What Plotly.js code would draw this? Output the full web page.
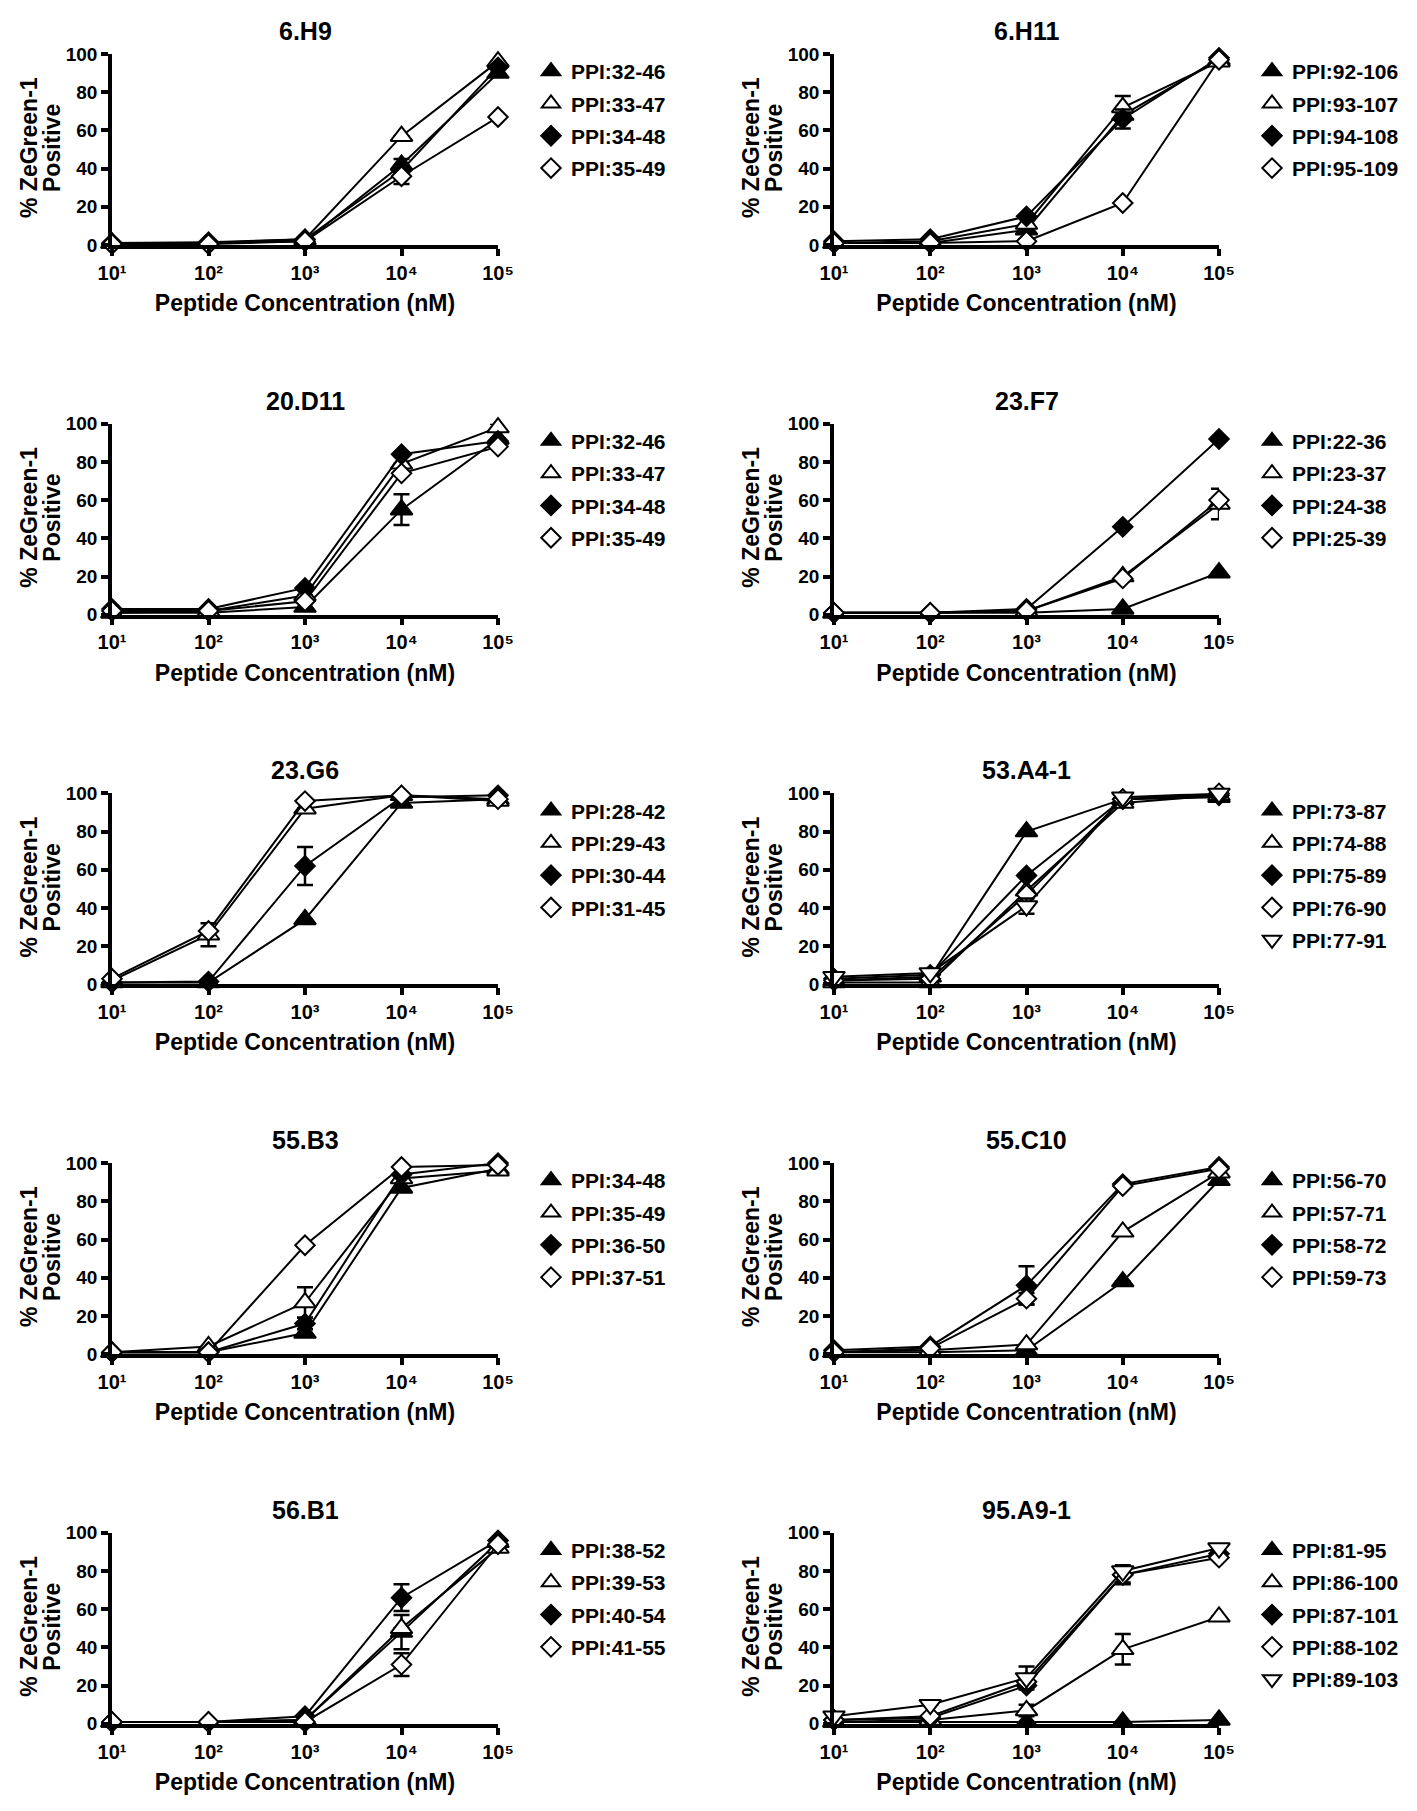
<!DOCTYPE html>
<html>
<head>
<meta charset="utf-8">
<script src="https://cdn.plot.ly/plotly-3.0.1.min.js"></script>
<style>html,body{margin:0;padding:0;background:#fff;}</style>
</head>
<body>
<div id="chart" style="width:1417px;height:1811px;"></div>
<script>
// ---------- data ----------
const concentrations = [10, 100, 1000, 10000, 100000];
const xTickText = ['10\u00B9', '10\u00B2', '10\u00B3', '10\u2074', '10\u2075'];
const yTicks = [0, 20, 40, 60, 80, 100];
const panelTitles = ['6.H9', '6.H11', '20.D11', '23.F7', '23.G6', '53.A4-1', '55.B3', '55.C10', '56.B1', '95.A9-1'];
const yTitleLine1 = '% ZeGreen-1';
const yTitleLine2 = 'Positive';
const xTitle = 'Peptide Concentration (nM)';

const labels_6H9 = ['PPI:32-46', 'PPI:33-47', 'PPI:34-48', 'PPI:35-49'];
const values_6H9 = [[1, 1, 2, 42, 90], [1, 1, 3, 57, 96], [1, 1.5, 3, 39, 93], [0.5, 0.5, 2, 36, 67]];
const errors_6H9 = [[0, 0, 0, 3, 0], [0, 0, 0, 0, 0], [0, 0, 0, 0, 0], [0, 0, 0, 4, 0]];

const labels_6H11 = ['PPI:92-106', 'PPI:93-107', 'PPI:94-108', 'PPI:95-109'];
const values_6H11 = [[1, 1, 8, 68, 97], [1, 2, 11, 72, 96], [2, 3, 15, 66, 98], [1, 1, 2, 22, 97]];
const errors_6H11 = [[0, 0, 0, 0, 0], [0, 0, 0, 6, 0], [0, 0, 0, 5, 0], [0, 0, 0, 0, 0]];

const labels_20D11 = ['PPI:32-46', 'PPI:33-47', 'PPI:34-48', 'PPI:35-49'];
const values_20D11 = [[1, 1, 4, 55, 92], [1, 2, 10, 79, 98], [3, 3, 14, 84, 91], [2, 2, 7, 74, 88]];
const errors_20D11 = [[0, 0, 0, 8, 0], [0, 0, 0, 0, 2], [0, 0, 0, 0, 0], [0, 0, 0, 0, 0]];

const labels_23F7 = ['PPI:22-36', 'PPI:23-37', 'PPI:24-38', 'PPI:25-39'];
const values_23F7 = [[1, 1, 1, 3, 22], [1, 1, 2, 20, 58], [1, 1, 3, 46, 92], [1, 1, 2, 19, 60]];
const errors_23F7 = [[0, 0, 0, 0, 0], [0, 0, 0, 0, 8], [0, 0, 0, 0, 0], [0, 0, 0, 0, 0]];

const labels_23G6 = ['PPI:28-42', 'PPI:29-43', 'PPI:30-44', 'PPI:31-45'];
const values_23G6 = [[1, 1, 34, 95, 97], [2, 26, 92, 99, 96], [1, 1.5, 62, 98, 99], [3, 28, 96, 99, 97]];
const errors_23G6 = [[0, 0, 0, 0, 0], [0, 6, 0, 0, 0], [0, 0, 10, 0, 0], [0, 0, 0, 0, 0]];

const labels_53A4 = ['PPI:73-87', 'PPI:74-88', 'PPI:75-89', 'PPI:76-90', 'PPI:77-91'];
const values_53A4 = [[2, 4, 80, 97, 98], [1, 1, 49, 95, 99], [3, 5, 57, 97, 99], [2, 3, 47, 97, 100], [4, 6, 41, 98, 100]];
const errors_53A4 = [[0, 0, 0, 0, 0], [0, 0, 0, 0, 0], [0, 0, 0, 0, 0], [0, 0, 0, 0, 0], [0, 0, 4, 0, 0]];

const labels_55B3 = ['PPI:34-48', 'PPI:35-49', 'PPI:36-50', 'PPI:37-51'];
const values_55B3 = [[1, 1, 11, 87, 97], [1, 4, 27, 92, 96], [1, 1, 16, 94, 100], [1, 1, 57, 98, 99]];
const errors_55B3 = [[0, 0, 0, 0, 0], [0, 0, 8, 0, 0], [0, 0, 3, 0, 0], [0, 0, 0, 0, 0]];

const labels_55C10 = ['PPI:56-70', 'PPI:57-71', 'PPI:58-72', 'PPI:59-73'];
const values_55C10 = [[1, 1, 2, 38, 91], [1, 2, 5, 64, 95], [2, 4, 36, 89, 98], [1, 3, 29, 88, 97]];
const errors_55C10 = [[0, 0, 0, 0, 0], [0, 0, 0, 0, 0], [0, 0, 10, 0, 0], [0, 0, 3, 0, 0]];

const labels_56B1 = ['PPI:38-52', 'PPI:39-53', 'PPI:40-54', 'PPI:41-55'];
const values_56B1 = [[1, 1, 2, 48, 95], [1, 1, 2, 50, 92], [1, 1, 4, 66, 96], [1, 1, 1, 31, 94]];
const errors_56B1 = [[0, 0, 0, 9, 0], [0, 0, 0, 0, 0], [0, 0, 0, 7, 0], [0, 0, 0, 6, 0]];

const labels_95A9 = ['PPI:81-95', 'PPI:86-100', 'PPI:87-101', 'PPI:88-102', 'PPI:89-103'];
const values_95A9 = [[1, 1, 1, 1, 2], [1, 2, 7, 39, 56], [2, 3, 20, 78, 89], [2, 4, 22, 78, 87], [4, 10, 24, 80, 92]];
const errors_95A9 = [[0, 0, 0, 0, 0], [0, 0, 3, 8, 0], [0, 0, 0, 5, 0], [0, 0, 0, 4, 0], [0, 0, 6, 0, 0]];

// series styles by order within a panel
const seriesSymbols = ['triangle-up', 'triangle-up', 'diamond', 'diamond', 'triangle-down'];
const seriesFills = ['#000000', '#ffffff', '#000000', '#ffffff', '#ffffff'];
const seriesSizes = [19, 19, 15, 15, 19];

const panels = [
  {labels: labels_6H9, values: values_6H9, errors: errors_6H9},
  {labels: labels_6H11, values: values_6H11, errors: errors_6H11},
  {labels: labels_20D11, values: values_20D11, errors: errors_20D11},
  {labels: labels_23F7, values: values_23F7, errors: errors_23F7},
  {labels: labels_23G6, values: values_23G6, errors: errors_23G6},
  {labels: labels_53A4, values: values_53A4, errors: errors_53A4},
  {labels: labels_55B3, values: values_55B3, errors: errors_55B3},
  {labels: labels_55C10, values: values_55C10, errors: errors_55C10},
  {labels: labels_56B1, values: values_56B1, errors: errors_56B1},
  {labels: labels_95A9, values: values_95A9, errors: errors_95A9}
];

// ---------- layout geometry (pixels) ----------
const W = 1417, H = 1811;
const colX0 = [112, 834], colX1 = [498, 1219];
const rowTop0 = 54, rowBot0 = 245, rowStep = 369.7;
const FONT = 'Liberation Sans, Arial, Helvetica, sans-serif';

const traces = [];
const layout = {
  width: W, height: H,
  margin: {l: 0, r: 0, t: 0, b: 0},
  paper_bgcolor: '#ffffff', plot_bgcolor: '#ffffff',
  font: {family: FONT, color: '#000000', size: 19, weight: 'bold'},
  showlegend: true,
  annotations: []
};

panels.forEach((p, i) => {
  const n = i + 1;
  const col = i % 2, row = Math.floor(i / 2);
  const xa = n === 1 ? 'x' : 'x' + n;
  const ya = n === 1 ? 'y' : 'y' + n;
  const lg = n === 1 ? 'legend' : 'legend' + n;
  const top = rowTop0 + row * rowStep, bot = rowBot0 + row * rowStep;

  layout[n === 1 ? 'xaxis' : 'xaxis' + n] = {
    type: 'log', range: [1, 5], domain: [colX0[col] / W, colX1[col] / W], anchor: ya,
    showline: true, linewidth: 3.5, linecolor: '#000', showgrid: false, zeroline: false,
    ticks: 'outside', ticklen: 7, tickwidth: 3.5, tickcolor: '#000',
    tickvals: concentrations, ticktext: xTickText,
    tickfont: {size: 20, family: FONT, weight: 'bold', color: '#000'},
    title: {text: xTitle, font: {size: 23, family: FONT, weight: 'bold', color: '#000'}, standoff: 13},
    fixedrange: true
  };
  layout[n === 1 ? 'yaxis' : 'yaxis' + n] = {
    range: [0, 100], domain: [1 - bot / H, 1 - top / H], anchor: xa,
    showline: true, linewidth: 3.5, linecolor: '#000', showgrid: false, zeroline: false,
    ticks: 'outside', ticklen: 7, tickwidth: 3.5, tickcolor: '#000',
    tickvals: yTicks, tickfont: {size: 19, family: FONT, weight: 'bold', color: '#000'},
    fixedrange: true
  };
  layout[lg] = {
    x: (colX1[col] + 33) / W, xanchor: 'left',
    y: 1 - (top - 3) / H, yanchor: 'top',
    bgcolor: 'rgba(0,0,0,0)', borderwidth: 0,
    font: {size: 21, family: FONT, weight: 'bold', color: '#000'},
    tracegroupgap: 2, itemclick: false, itemdoubleclick: false
  };

  // panel title
  layout.annotations.push({
    text: panelTitles[i], xref: 'paper', yref: 'paper',
    x: (colX0[col] + colX1[col]) / 2 / W, y: 1 - (top - 23) / H,
    xanchor: 'center', yanchor: 'middle', showarrow: false,
    font: {size: 25, family: FONT, weight: 'bold', color: '#000'}
  });
  // y-axis title (two lines)
  const yMid = 1 - (top + 94) / H;
  layout.annotations.push({
    text: yTitleLine1, xref: 'paper', yref: 'paper', textangle: -90,
    x: (colX0[col] - 83) / W, y: yMid, xanchor: 'center', yanchor: 'middle', showarrow: false,
    font: {size: 23, family: FONT, weight: 'bold', color: '#000'}
  });
  layout.annotations.push({
    text: yTitleLine2, xref: 'paper', yref: 'paper', textangle: -90,
    x: (colX0[col] - 60) / W, y: yMid, xanchor: 'center', yanchor: 'middle', showarrow: false,
    font: {size: 23, family: FONT, weight: 'bold', color: '#000'}
  });

  p.values.forEach((vals, s) => {
    const marker = {
      symbol: seriesSymbols[s], size: seriesSizes[s], color: seriesFills[s],
      line: {color: '#000', width: 2}
    };
    traces.push({
      type: 'scatter', mode: 'lines+markers', x: concentrations, y: vals,
      xaxis: xa, yaxis: ya, name: p.labels[s], showlegend: false,
      line: {color: '#000', width: 2}, marker: marker, cliponaxis: false,
      error_y: {type: 'data', array: p.errors[s], visible: true, color: '#000', thickness: 2.5, width: 8},
      hoverinfo: 'skip'
    });
  });
  // legend entries (marker only, like the reference)
  p.labels.forEach((lab, s) => {
    traces.push({
      type: 'scatter', mode: 'markers', x: [null], y: [null],
      xaxis: xa, yaxis: ya, name: lab, legend: lg, legendgroup: 'g' + n + '_' + s,
      showlegend: true,
      marker: {symbol: seriesSymbols[s], size: seriesSizes[s], color: seriesFills[s], line: {color: '#000', width: 2}}
    });
  });
});

Plotly.newPlot('chart', traces, layout, {displayModeBar: false});
</script>
</body>
</html>
